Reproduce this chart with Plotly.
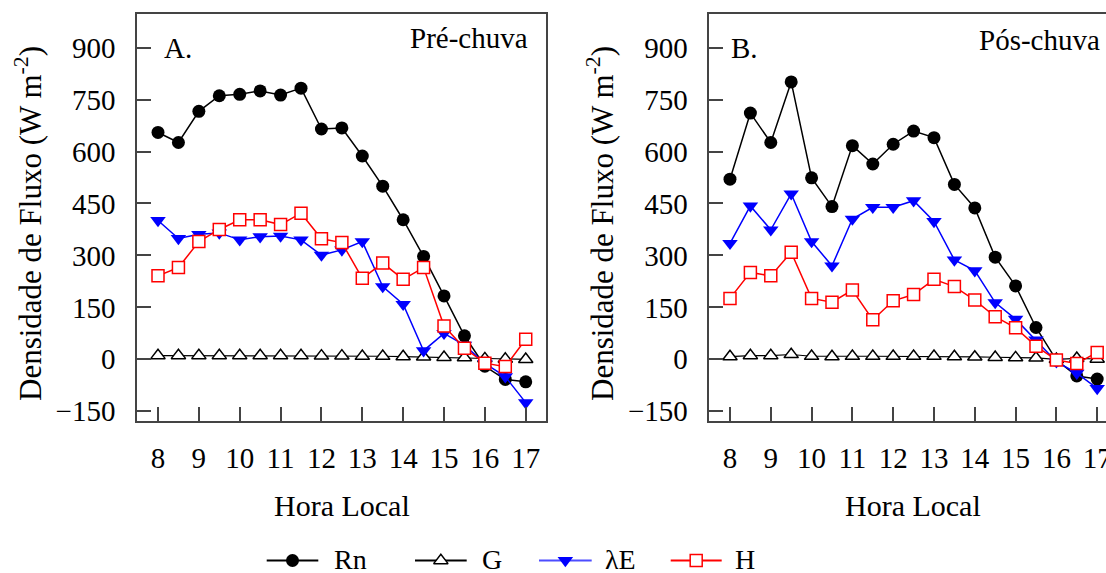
import plotly.graph_objects as go

# Hourly surface energy balance components (W m-2), local time
hours = [8, 8.5, 9, 9.5, 10, 10.5, 11, 11.5, 12, 12.5, 13, 13.5, 14, 14.5, 15, 15.5, 16, 16.5, 17]
hour_ticks = [8, 9, 10, 11, 12, 13, 14, 15, 16, 17]
flux_ticks = [-150, 0, 150, 300, 450, 600, 750, 900]

# A. Pre-rain period
rn_pre = [655, 626, 716, 761, 765, 775, 763, 783, 665, 668, 587, 500, 403, 297, 183, 68, -20, -58, -65]
g_pre = [11, 11, 11, 11, 11, 11, 11, 11, 10, 10, 9, 9, 8, 7, 6, 5, 2, 1, 0]
le_pre = [401, 349, 361, 365, 345, 354, 356, 345, 301, 316, 340, 210, 159, 25, 75, 41, -12, -50, -125]
h_pre = [241, 265, 340, 375, 403, 403, 389, 422, 348, 337, 234, 278, 231, 265, 96, 32, -11, -21, 58]

# B. Post-rain period
rn_pos = [520, 711, 626, 801, 524, 441, 617, 564, 621, 659, 640, 505, 437, 295, 212, 92, -2, -48, -57]
g_pos = [8, 11, 11, 14, 9, 8, 9, 9, 9, 9, 9, 8, 7, 6, 5, 4, 0, 3, 1]
le_pos = [335, 443, 374, 478, 340, 270, 405, 439, 439, 458, 398, 287, 256, 164, 116, 56, -7, -40, -84]
h_pos = [176, 251, 241, 309, 176, 165, 200, 114, 169, 187, 231, 210, 171, 123, 91, 38, -2, -12, 20]

series_names = ["Rn", "G", "\u03bbE", "H"]

W, H = 1106, 573
FONT = "'Liberation Serif', 'Times New Roman', Times, serif"
FRAME = "#444444"

# series styles: (line colour, line width, marker symbol, marker size, fill, marker line colour)
styles = [
    ("black", 1.5, "circle", 13, "black", "black"),
    ("black", 1.2, "triangle-up", 12.5, "white", "black"),
    ("#0000ff", 1.5, "triangle-down", 13.5, "#0000ff", "#0000ff"),
    ("#ff0000", 1.5, "square", 12, "white", "#ff0000"),
]


def px_x(p):
    return p / W


def px_y(p):
    return 1 - p / H


fig = go.Figure()

panels = [
    ("x", "y", [rn_pre, g_pre, le_pre, h_pre]),
    ("x2", "y2", [rn_pos, g_pos, le_pos, h_pos]),
]
for xa, ya, data in panels:
    for name, vals, st in zip(series_names, data, styles):
        lc, lw, sym, ms, fill, mlc = st
        fig.add_trace(go.Scatter(
            x=hours, y=vals, name=name, xaxis=xa, yaxis=ya,
            mode="lines+markers", showlegend=False, cliponaxis=False,
            line=dict(color=lc, width=lw),
            marker=dict(symbol=sym, size=ms, color=fill,
                        line=dict(color=mlc, width=1.5 if fill == "white" else 0)),
        ))

# key along the bottom, drawn on a hidden pixel-scaled axis
key_line_x = [(266.7, 318.3), (415.0, 466.7), (539.0, 591.7), (670.7, 721.7)]
key_text_x = [331.7, 480.0, 603.0, 733.0]
key_y = 12.5
for name, st, (x0, x1), tx in zip(series_names, styles, key_line_x, key_text_x):
    lc, lw, sym, ms, fill, mlc = st
    lc_key = "#4d4dff" if lc == "#0000ff" else lc
    fig.add_trace(go.Scatter(
        x=[x0, x1], y=[key_y, key_y], xaxis="x3", yaxis="y3", mode="lines",
        showlegend=False, cliponaxis=False, hoverinfo="skip",
        line=dict(color=lc_key, width=2),
    ))
    fig.add_trace(go.Scatter(
        x=[(x0 + x1) / 2], y=[key_y], xaxis="x3", yaxis="y3", mode="markers",
        showlegend=False, cliponaxis=False, hoverinfo="skip",
        marker=dict(symbol=sym, size=ms, color=fill,
                    line=dict(color=mlc, width=1.5 if fill == "white" else 0)),
    ))
    fig.add_annotation(x=tx, y=key_y + 1, xref="x3", yref="y3", text=name,
                       showarrow=False, xanchor="left", yanchor="middle",
                       font=dict(family=FONT, size=28, color="black"))

axis_common = dict(
    showgrid=False, zeroline=False, showline=True, linecolor=FRAME, linewidth=1.5,
    ticks="inside", ticklen=14, tickwidth=1.5, tickcolor=FRAME,
    tickfont=dict(family=FONT, size=29, color="black"),
    ticklabeloverflow="allow", automargin=False,
)

y_dom = [px_y(421), px_y(14)]
y_range = [-178, 997]

fig.update_layout(
    template="none",
    width=W, height=H, margin=dict(l=0, r=0, t=0, b=0, pad=0, autoexpand=False),
    paper_bgcolor="white", plot_bgcolor="white",
    font=dict(family=FONT, color="black"),
    xaxis=dict(domain=[px_x(137), px_x(546)], range=[7.486, 17.496], anchor="y",
               tickvals=hour_ticks, mirror=True, ticklabelstandoff=10, **axis_common),
    yaxis=dict(domain=y_dom, range=y_range, anchor="x", tickvals=flux_ticks,
               mirror=True, ticklabelstandoff=14, **axis_common),
    xaxis2=dict(domain=[px_x(709.3), 1.0], range=[7.493, 17.216], anchor="y2",
                tickvals=hour_ticks, mirror=True, ticklabelstandoff=10, **axis_common),
    yaxis2=dict(domain=y_dom, range=y_range, anchor="x2", tickvals=flux_ticks,
                mirror=False, ticklabelstandoff=14, **axis_common),
    xaxis3=dict(domain=[0, 1], range=[0, W], visible=False, anchor="y3",
                fixedrange=True, automargin=False),
    yaxis3=dict(domain=[0, 60 / H], range=[0, 60], visible=False, anchor="x3",
                fixedrange=True, automargin=False),
)

text_font = dict(family=FONT, size=29, color="black")
title_font = dict(family=FONT, size=30, color="black")
ytitle = "Densidade de Fluxo (W m<sup>-2</sup>)"

# panel labels
fig.add_annotation(x=px_x(162), y=px_y(48), xref="paper", yref="paper", text="A.",
                   showarrow=False, xanchor="left", yanchor="middle", font=text_font)
fig.add_annotation(x=px_x(530), y=px_y(38), xref="paper", yref="paper", text="Pré-chuva",
                   showarrow=False, xanchor="right", yanchor="middle", font=text_font)
fig.add_annotation(x=px_x(729), y=px_y(48), xref="paper", yref="paper", text="B.",
                   showarrow=False, xanchor="left", yanchor="middle", font=text_font)
fig.add_annotation(x=px_x(1102), y=px_y(40), xref="paper", yref="paper", text="Pós-chuva",
                   showarrow=False, xanchor="right", yanchor="middle", font=text_font)

# axis titles
for cx in (341.5, 913):
    fig.add_annotation(x=px_x(cx), y=px_y(505), xref="paper", yref="paper", text="Hora Local",
                       showarrow=False, xanchor="center", yanchor="middle", font=title_font)
for cx in (28, 600):
    fig.add_annotation(x=px_x(cx), y=px_y(224), xref="paper", yref="paper", text=ytitle,
                       showarrow=False, xanchor="center", yanchor="middle", textangle=-90,
                       font=dict(family=FONT, size=31, color="black"))

fig.write_html("out.html")
